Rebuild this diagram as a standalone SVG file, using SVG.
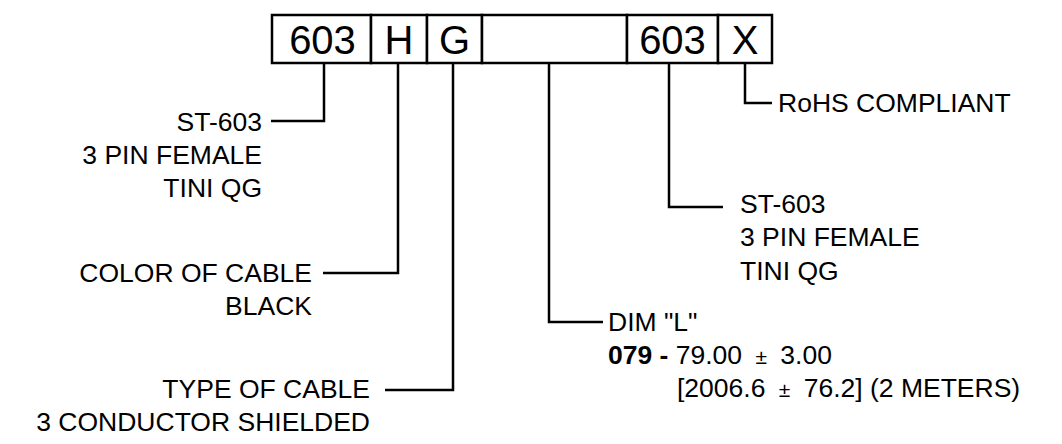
<svg xmlns="http://www.w3.org/2000/svg" width="1062" height="444" viewBox="0 0 1062 444">
<style>
.box{fill:#fff;stroke:#000;stroke-width:2.5}
.big{font-family:"Liberation Sans",Arial,sans-serif;font-size:40px;fill:#000;text-anchor:middle}
.lbl{font-family:"Liberation Sans",Arial,sans-serif;font-size:26.5px;fill:#000}
.r{text-anchor:end}
.ln{fill:none;stroke:#000;stroke-width:2.5}
.pm{font-size:21px}
</style>
<rect width="1062" height="444" fill="#fff"/>
<g id="partnumber">
<rect class="box" x="272" y="15" width="99" height="48"/>
<rect class="box" x="371" y="15" width="56" height="48"/>
<rect class="box" x="427" y="15" width="55" height="48"/>
<rect class="box" x="482" y="15" width="145" height="48"/>
<rect class="box" x="627" y="15" width="91" height="48"/>
<rect class="box" x="718" y="15" width="54" height="48"/>
<text class="big" x="322.5" y="54">603</text>
<text class="big" x="399" y="54">H</text>
<text class="big" x="454.5" y="54">G</text>
<text class="big" x="672.5" y="54">603</text>
<text class="big" x="745" y="54">X</text>
</g>
<g id="connectors">
<polyline class="ln" points="324,63 324,121 271,121"/>
<polyline class="ln" points="398,63 398,273 323,273"/>
<polyline class="ln" points="453,63 453,390 385,390"/>
<polyline class="ln" points="549,63 549,322 603,322"/>
<polyline class="ln" points="669,63 669,207 723,207"/>
<polyline class="ln" points="745,63 745,103 772,103"/>
</g>
<g id="label-connector1">
<text class="lbl r" x="262" y="131">ST-603</text>
<text class="lbl r" x="262" y="164">3 PIN FEMALE</text>
<text class="lbl r" x="262" y="197">TINI QG</text>
</g>
<g id="label-color">
<text class="lbl r" x="312" y="282">COLOR OF CABLE</text>
<text class="lbl r" x="312" y="315">BLACK</text>
</g>
<g id="label-type">
<text class="lbl r" x="370" y="398">TYPE OF CABLE</text>
<text class="lbl r" x="370" y="431">3 CONDUCTOR SHIELDED</text>
</g>
<g id="label-dim">
<text class="lbl" x="608" y="331">DIM "L"</text>
<text class="lbl" x="608" y="364"><tspan font-weight="bold">079 -</tspan> 79.00 <tspan class="pm" dx="6">±</tspan> <tspan dx="6">3.00</tspan></text>
<text class="lbl" x="677" y="397">[2006.6 <tspan class="pm" dx="6">±</tspan> <tspan dx="6">76.2] (2 METERS)</tspan></text>
</g>
<g id="label-connector2">
<text class="lbl" x="740" y="213">ST-603</text>
<text class="lbl" x="740" y="246">3 PIN FEMALE</text>
<text class="lbl" x="740" y="280">TINI QG</text>
</g>
<g id="label-rohs">
<text class="lbl" x="778" y="112">RoHS COMPLIANT</text>
</g>
</svg>
